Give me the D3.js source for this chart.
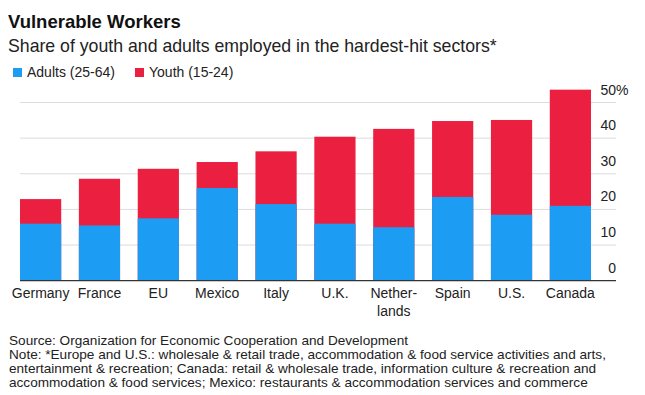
<!DOCTYPE html>
<html>
<head>
<meta charset="utf-8">
<script src="https://cdn.jsdelivr.net/npm/d3@7"></script>
<style>
  body { margin: 0; background: #fff; }
  svg { display: block; font-family: "Liberation Sans", Arial, Helvetica, sans-serif; }
</style>
</head>
<body>
<svg id="chart"></svg>
<script>
// values (percent)
const countries = ['Germany', 'France', 'EU', 'Mexico', 'Italy', 'U.K.', 'Netherlands', 'Spain', 'U.S.', 'Canada'];
const countryLabels = [['Germany'], ['France'], ['EU'], ['Mexico'], ['Italy'], ['U.K.'], ['Nether-', 'lands'], ['Spain'], ['U.S.'], ['Canada']];
const adults = [16.0, 15.5, 17.5, 26.0, 21.5, 16.0, 15.0, 23.5, 18.5, 21.0];
const youth = [22.9, 28.6, 31.4, 33.3, 36.3, 40.4, 42.6, 44.8, 45.1, 53.6];
const yTicks = [0, 10, 20, 30, 40, 50];
const seriesNames = ['Adults (25-64)', 'Youth (15-24)'];
const colors = { adults: '#1d9cf3', youth: '#eb1f40' };

const width = 645;
const height = 395;

const svg = d3.select('#chart')
  .attr('width', width)
  .attr('height', height);

const rows = countries.map((c, i) => ({ name: c, label: countryLabels[i], adults: adults[i], youth: youth[i] }));

const xScale = d3.scaleBand()
  .domain(countries)
  .range([20, 591])
  .paddingInner(0.3)
  .paddingOuter(0);

const yScale = d3.scaleLinear()
  .domain([0, 50])
  .range([280.7, 102.5]);

const gridLeft = 20;
const gridRight = 616;

// titles
svg.append('text')
  .attr('x', 8).attr('y', 28)
  .style('font-size', '18.5px').style('font-weight', 'bold').style('fill', '#111')
  .text('Vulnerable Workers');

svg.append('text')
  .attr('x', 8).attr('y', 52)
  .style('font-size', '17.7px').style('fill', '#222')
  .text('Share of youth and adults employed in the hardest-hit sectors*');

// legend
const legend = svg.append('g').attr('class', 'legend');
const legendX = [13, 135];
seriesNames.forEach((name, i) => {
  const g = legend.append('g').attr('transform', `translate(${ legendX[i] }, 0)`);
  g.append('rect')
    .attr('x', 0).attr('y', 68).attr('width', 9).attr('height', 9)
    .style('fill', i === 0 ? colors.adults : colors.youth);
  g.append('text')
    .attr('x', 14).attr('y', 77)
    .style('font-size', '14px').style('fill', '#222')
    .text(name);
});

// gridlines
svg.append('g').attr('class', 'grid')
  .selectAll('line')
  .data(yTicks.filter((t) => t > 0))
  .enter().append('line')
  .attr('x1', gridLeft).attr('x2', gridRight)
  .attr('y1', (d) => yScale(d)).attr('y2', (d) => yScale(d))
  .style('stroke', '#dcdcdc').style('stroke-width', 1);

// bars: youth behind, adults in front (both from zero)
const bars = svg.append('g').attr('class', 'bars')
  .selectAll('g')
  .data(rows)
  .enter().append('g');

bars.append('rect')
  .attr('x', (d) => xScale(d.name))
  .attr('width', xScale.bandwidth())
  .attr('y', (d) => yScale(d.youth))
  .attr('height', (d) => yScale(0) - yScale(d.youth))
  .style('fill', colors.youth);

bars.append('rect')
  .attr('x', (d) => xScale(d.name))
  .attr('width', xScale.bandwidth())
  .attr('y', (d) => yScale(d.adults))
  .attr('height', (d) => yScale(0) - yScale(d.adults))
  .style('fill', colors.adults);

// baseline
svg.append('line')
  .attr('x1', gridLeft).attr('x2', gridRight)
  .attr('y1', yScale(0)).attr('y2', yScale(0))
  .style('stroke', '#333').style('stroke-width', 1.3);

// y axis labels, sitting above their gridline, right aligned
const yAxis = svg.append('g').attr('class', 'axis y');
yAxis.selectAll('text')
  .data(yTicks)
  .enter().append('text')
  .attr('x', gridRight)
  .attr('y', (d) => yScale(d) - 8)
  .attr('text-anchor', 'end')
  .style('font-size', '14px').style('fill', '#222')
  .text((d) => d);
yAxis.append('text')
  .attr('x', gridRight)
  .attr('y', yScale(50) - 8)
  .style('font-size', '14px').style('fill', '#222')
  .text('%');

// x axis labels
const xLabels = svg.append('g').attr('class', 'axis x')
  .selectAll('text')
  .data(rows)
  .enter().append('text')
  .attr('x', (d) => xScale(d.name) + xScale.bandwidth() / 2)
  .attr('y', 298)
  .attr('text-anchor', 'middle')
  .style('font-size', '14px').style('fill', '#222');
xLabels.selectAll('tspan')
  .data((d) => d.label)
  .enter().append('tspan')
  .attr('x', function () { return d3.select(this.parentNode).attr('x'); })
  .attr('dy', (d, i) => i === 0 ? 0 : 18)
  .text((d) => d);

// footer
const footer = [
  'Source: Organization for Economic Cooperation and Development',
  'Note: *Europe and U.S.: wholesale & retail trade, accommodation & food service activities and arts,',
  'entertainment & recreation; Canada: retail & wholesale trade, information culture & recreation and',
  'accommodation & food services; Mexico: restaurants & accommodation services and commerce'
];
svg.append('g').attr('class', 'footer')
  .selectAll('text')
  .data(footer)
  .enter().append('text')
  .attr('x', 9)
  .attr('y', (d, i) => 345 + i * 14)
  .style('font-size', '13.6px').style('fill', '#222')
  .text((d) => d);
</script>
</body>
</html>
